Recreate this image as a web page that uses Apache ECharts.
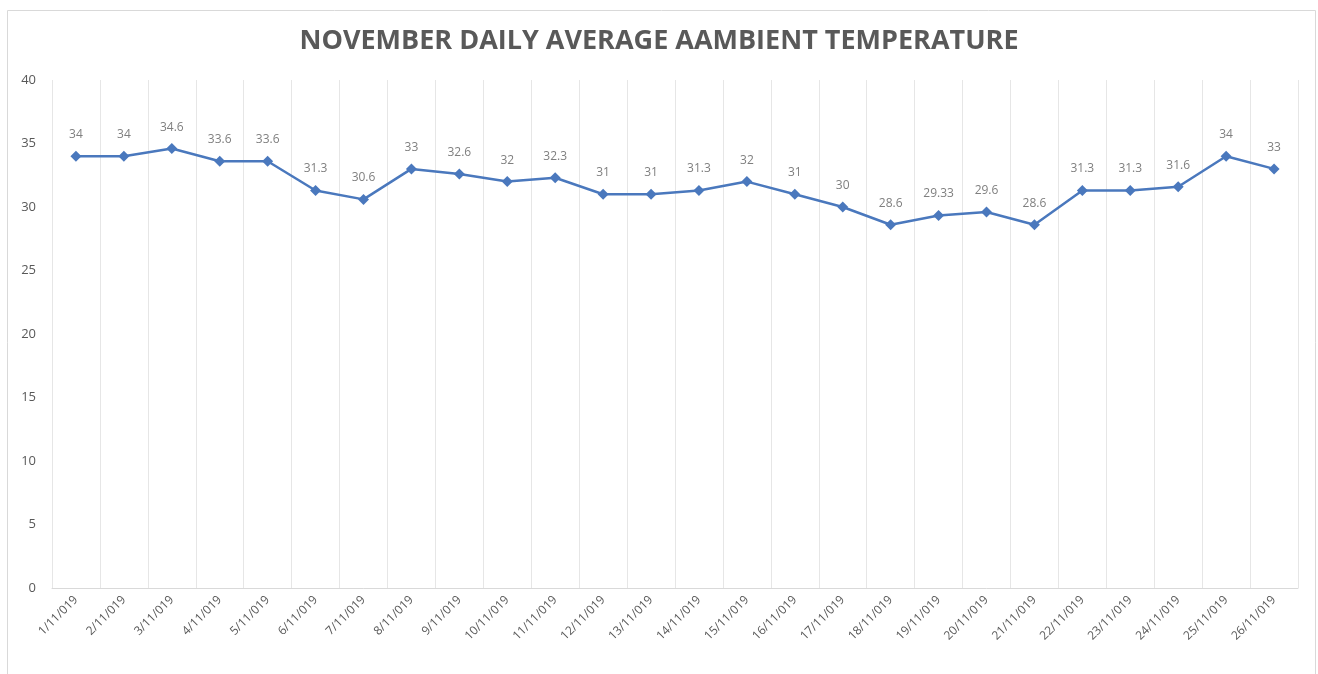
<!DOCTYPE html>
<html>
<head>
<meta charset="utf-8">
<script src="https://cdn.jsdelivr.net/npm/echarts@6/dist/echarts.min.js"></script>
<style>
  html, body { margin: 0; padding: 0; background: #fff; }
  #chart { width: 1318px; height: 674px; }
</style>
</head>
<body>
<div id="chart"></div>
<script>
const days = ['1/11/019', '2/11/019', '3/11/019', '4/11/019', '5/11/019', '6/11/019', '7/11/019',
  '8/11/019', '9/11/019', '10/11/019', '11/11/019', '12/11/019', '13/11/019', '14/11/019',
  '15/11/019', '16/11/019', '17/11/019', '18/11/019', '19/11/019', '20/11/019', '21/11/019',
  '22/11/019', '23/11/019', '24/11/019', '25/11/019', '26/11/019'];
const temps = [34, 34, 34.6, 33.6, 33.6, 31.3, 30.6, 33, 32.6, 32, 32.3, 31, 31, 31.3,
  32, 31, 30, 28.6, 29.33, 29.6, 28.6, 31.3, 31.3, 31.6, 34, 33];

const chart = echarts.init(document.getElementById('chart'));
chart.setOption({
  animation: false,
  title: {
    text: 'NOVEMBER DAILY AVERAGE AAMBIENT TEMPERATURE',
    left: 'center', top: 23,
    textStyle: {fontFamily: 'Open Sans', fontSize: 27, fontWeight: 'bold', color: '#595959'}
  },
  graphic: [{
    type: 'rect', left: 5, top: 8,
    shape: {width: 1308, height: 680},
    style: {fill: 'none', stroke: '#d9d9d9', lineWidth: 1}
  }],
  grid: {left: 52, right: 20, top: 80, bottom: 86},
  xAxis: {
    type: 'category', data: days, boundaryGap: true,
    axisLine: {lineStyle: {color: '#d9d9d9'}},
    axisTick: {show: false},
    splitLine: {show: true, lineStyle: {color: '#e6e6e6'}},
    axisLabel: {rotate: 45, interval: 0, color: '#595959', fontFamily: 'Open Sans', fontSize: 12, margin: 10}
  },
  yAxis: {
    type: 'value', min: 0, max: 40, interval: 5,
    axisLine: {show: false}, axisTick: {show: false},
    splitLine: {show: false},
    axisLabel: {color: '#595959', fontFamily: 'Open Sans', fontSize: 13, margin: 16}
  },
  series: [{
    type: 'line', data: temps,
    symbol: 'diamond', symbolSize: 11,
    lineStyle: {color: '#4a78bd', width: 2.5},
    itemStyle: {color: '#4a78bd'},
    label: {show: true, position: 'top', distance: 10, color: '#7f7f7f', fontFamily: 'Open Sans', fontSize: 12}
  }]
});
</script>
</body>
</html>
